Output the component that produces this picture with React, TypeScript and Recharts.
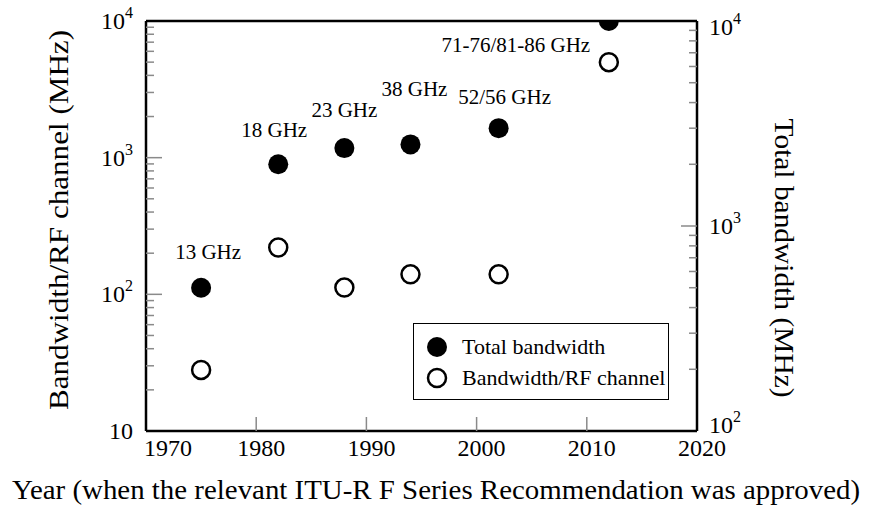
import React from 'react';
import { ScatterChart, Scatter, XAxis, YAxis, Legend } from 'recharts';

const years = [1975, 1982, 1988, 1994, 2002, 2012];
const bands = ['13 GHz', '18 GHz', '23 GHz', '38 GHz', '52/56 GHz', '71-76/81-86 GHz'];
const totalBandwidth = [500, 2000, 2400, 2500, 3000, 10000];
const channelBandwidth = [28, 220, 112, 140, 140, 5000];

const yearTicks = [1970, 1980, 1990, 2000, 2010, 2020];
const leftTicks = [10, 20, 30, 40, 50, 60, 70, 80, 90, 100, 200, 300, 400, 500, 600, 700, 800, 900, 1000, 2000, 3000, 4000, 5000, 6000, 7000, 8000, 9000, 10000];
const rightTicks = [100, 200, 300, 400, 500, 600, 700, 800, 900, 1000, 2000, 3000, 4000, 5000, 6000, 7000, 8000, 9000, 10000];
const majorTicks = [10, 100, 1000, 10000];

// where each band name sits relative to its dot
const labelShift: Record<string, [number, number]> = {
  '13 GHz': [7, -36],
  '18 GHz': [-4, -34],
  '23 GHz': [0, -38],
  '38 GHz': [4, -55],
  '52/56 GHz': [6, -31],
  '71-76/81-86 GHz': [-93, 24],
};

const totalData = years.map((year, i) => ({ year, value: totalBandwidth[i], band: bands[i] }));
const channelData = years.map((year, i) => ({ year, value: channelBandwidth[i] }));

const FONT = '"Liberation Serif", "Times New Roman", serif';
const TICK_GREY = '#8a8a8a';

function PowerLabel({ x, y, value, anchor }: { x: number; y: number; value: number; anchor: 'start' | 'end' }) {
  const exp = Math.round(Math.log10(value));
  return (
    <text x={x} y={y} textAnchor={anchor} dominantBaseline="central" fontFamily={FONT} fontSize={24} fill="#000">
      <tspan>10</tspan>
      {exp > 1 && <tspan dy={-9} fontSize={16}>{exp}</tspan>}
    </text>
  );
}

const LeftTick = (props: any) => {
  const { x, y, payload } = props;
  const v = payload.value;
  const major = majorTicks.includes(v);
  return (
    <g>
      {v !== 10 && v !== 10000 && (
        <line x1={x} x2={x + (major ? 16 : 8)} y1={y} y2={y} stroke={TICK_GREY} strokeWidth={1.5} />
      )}
      {major && <PowerLabel x={x - 13} y={y} value={v} anchor="end" />}
    </g>
  );
};

const RightTick = (props: any) => {
  const { x, y, payload } = props;
  const v = payload.value;
  const major = majorTicks.includes(v);
  const shift = v === 10000 ? 6 : v === 100 ? -6 : 0;
  return (
    <g>
      {v !== 100 && v !== 10000 && (
        <line x1={x} x2={x - (major ? 16 : 8)} y1={y} y2={y} stroke={TICK_GREY} strokeWidth={1.5} />
      )}
      {major && <PowerLabel x={x + 12} y={y + shift} value={v} anchor="start" />}
    </g>
  );
};

const BottomTick = (props: any) => {
  const { x, y, payload } = props;
  const v = payload.value;
  const edge = v === 1970 || v === 2020;
  return (
    <g>
      {!edge && <line x1={x} x2={x} y1={y} y2={y - 14} stroke={TICK_GREY} strokeWidth={1.5} />}
      <text
        x={v === 1970 ? x - 2 : x + 5}
        y={y + 17}
        textAnchor={v === 1970 ? 'start' : 'middle'}
        dominantBaseline="central"
        fontFamily={FONT}
        fontSize={24}
        fill="#000"
      >
        {v}
      </text>
    </g>
  );
};

const TopTick = (props: any) => {
  const { x, y, payload } = props;
  const v = payload.value;
  if (v === 1970 || v === 2020) return <g />;
  return <line x1={x} x2={x} y1={y} y2={y + 14} stroke={TICK_GREY} strokeWidth={1.5} />;
};

const FilledDot = (props: any) => {
  const { cx, cy, payload } = props;
  const [dx, dy] = labelShift[payload.band] || [0, -30];
  return (
    <g>
      <circle cx={cx} cy={cy} r={10} fill="#000" />
      <text x={cx + dx} y={cy + dy} textAnchor="middle" dominantBaseline="central" fontFamily={FONT} fontSize={21} fill="#000">
        {payload.band}
      </text>
    </g>
  );
};

const OpenDot = (props: any) => {
  const { cx, cy } = props;
  return <circle cx={cx} cy={cy} r={9} fill="#fff" stroke="#000" strokeWidth={2.5} />;
};

// axis titles, placed against the axis boxes Recharts hands over
const AxisTitle = ({ text, x, y, angle, length }: { text: string; x: number; y: number; angle: number; length: number }) => (
  <text
    transform={`translate(${x},${y}) rotate(${angle})`}
    textAnchor="middle"
    dominantBaseline="central"
    fontFamily={FONT}
    fontSize={28}
    fill="#000"
    textLength={length}
    lengthAdjust="spacingAndGlyphs"
  >
    {text}
  </text>
);

const LegendBox = () => (
  <div
    style={{
      width: 256,
      height: 77,
      border: '1.5px solid #000',
      background: '#fff',
      fontFamily: FONT,
      fontSize: 22,
      color: '#000',
      boxSizing: 'border-box',
      padding: '7px 0 0 12px',
    }}
  >
    {[
      { name: 'Total bandwidth', filled: true },
      { name: 'Bandwidth/RF channel', filled: false },
    ].map((it) => (
      <div key={it.name} style={{ display: 'flex', alignItems: 'center', height: 31 }}>
        <svg width={22} height={22} style={{ marginRight: 14 }}>
          {it.filled ? (
            <circle cx={11} cy={11} r={10} fill="#000" />
          ) : (
            <circle cx={11} cy={11} r={9} fill="#fff" stroke="#000" strokeWidth={2.5} />
          )}
        </svg>
        <span>{it.name}</span>
      </div>
    ))}
  </div>
);

export default function App() {
  return (
    <div style={{ position: 'absolute', left: 0, top: 0, width: 869, height: 511, background: '#fff' }}>
      <ScatterChart width={869} height={511} margin={{ top: 0, right: 0, bottom: 0, left: 0 }}>
        <XAxis
          xAxisId="bottom"
          dataKey="year"
          type="number"
          domain={[1970, 2020]}
          ticks={yearTicks}
          interval={0}
          height={80}
          tickSize={0}
          tickMargin={0}
          tickLine={false}
          axisLine={{ stroke: '#000', strokeWidth: 2.5 }}
          tick={<BottomTick />}
          label={{
            content: (p: any) => (
              <AxisTitle
                text="Year (when the relevant ITU-R F Series Recommendation was approved)"
                x={436}
                y={p.viewBox.y + 58}
                angle={0}
                length={848}
              />
            ),
          }}
        />
        <XAxis
          xAxisId="top"
          orientation="top"
          dataKey="year"
          type="number"
          domain={[1970, 2020]}
          ticks={yearTicks}
          interval={0}
          height={21}
          tickSize={0}
          tickMargin={0}
          tickLine={false}
          axisLine={{ stroke: '#000', strokeWidth: 2.5 }}
          tick={<TopTick />}
        />
        <YAxis
          yAxisId="left"
          dataKey="value"
          type="number"
          scale="log"
          domain={[10, 10000]}
          allowDataOverflow
          ticks={leftTicks}
          interval={0}
          width={146}
          tickSize={0}
          tickMargin={0}
          tickLine={false}
          axisLine={{ stroke: '#000', strokeWidth: 2.5 }}
          tick={<LeftTick />}
          label={{
            content: (p: any) => (
              <AxisTitle text="Bandwidth/RF channel (MHz)" x={58} y={p.viewBox.y + p.viewBox.height / 2 - 6} angle={-90} length={380} />
            ),
          }}
        />
        <YAxis
          yAxisId="right"
          orientation="right"
          dataKey="value"
          type="number"
          scale="log"
          domain={[100, 10000]}
          allowDataOverflow
          ticks={rightTicks}
          interval={0}
          width={172}
          tickSize={0}
          tickMargin={0}
          tickLine={false}
          axisLine={{ stroke: '#000', strokeWidth: 2.5 }}
          tick={<RightTick />}
          label={{
            content: (p: any) => (
              <AxisTitle text="Total bandwidth (MHz)" x={784} y={p.viewBox.y + p.viewBox.height / 2 + 32} angle={90} length={279} />
            ),
          }}
        />
        <Legend
          layout="horizontal"
          verticalAlign="middle"
          align="center"
          wrapperStyle={{ left: 413, top: 323, width: 'auto', height: 'auto' }}
          content={() => <LegendBox />}
        />
        <Scatter
          name="Bandwidth/RF channel"
          data={channelData}
          xAxisId="bottom"
          yAxisId="left"
          shape={<OpenDot />}
          isAnimationActive={false}
        />
        <Scatter
          name="Total bandwidth"
          data={totalData}
          xAxisId="bottom"
          yAxisId="right"
          shape={<FilledDot />}
          isAnimationActive={false}
        />
      </ScatterChart>
    </div>
  );
}
